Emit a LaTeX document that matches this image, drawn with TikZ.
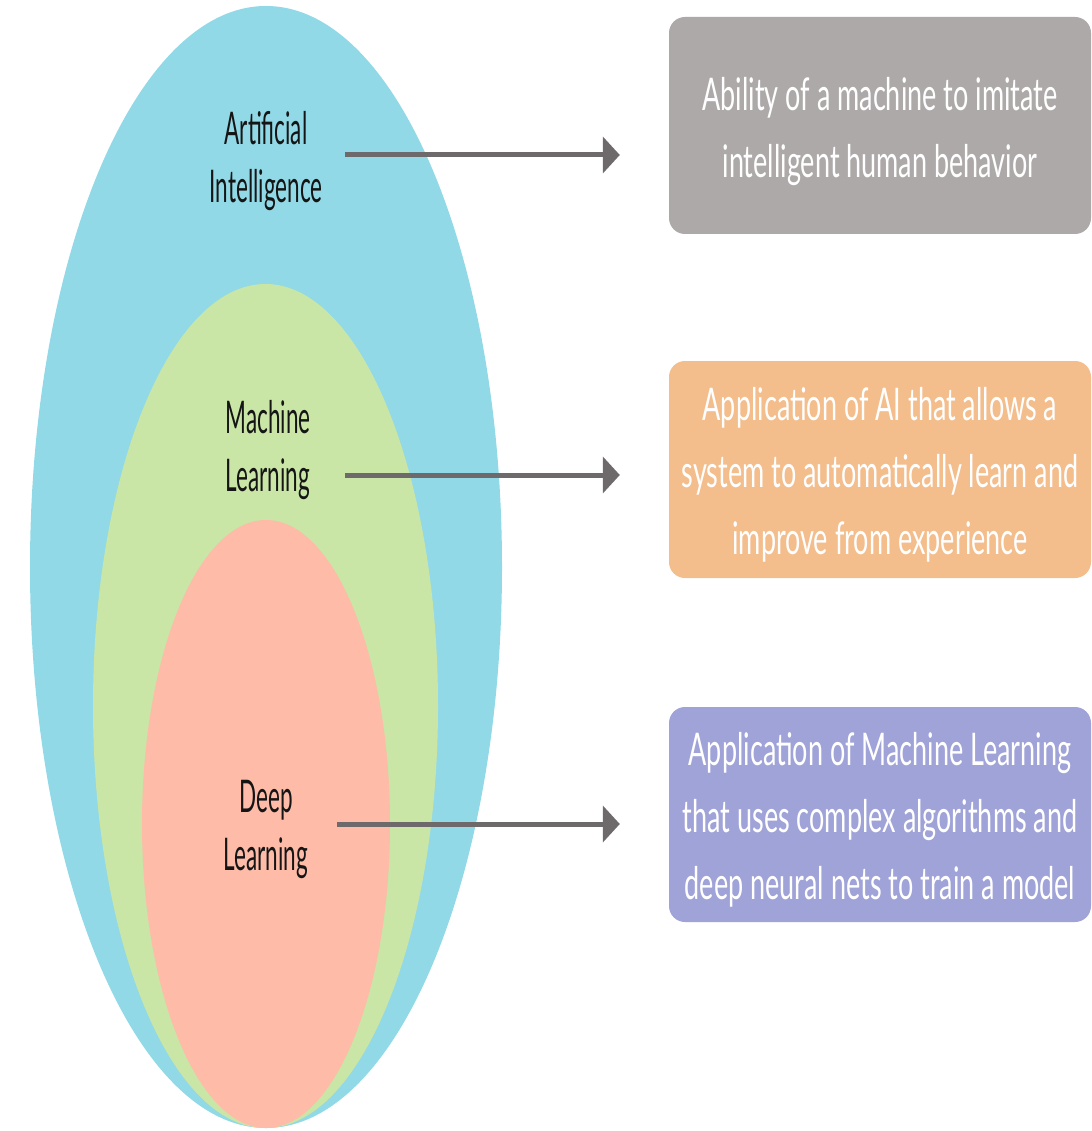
\documentclass[tikz,border=0pt]{standalone}
\usepackage{fontspec}
\setmainfont{Lato}
\newfontfamily\labelfont[FakeStretch=0.50]{Lato}
\newfontfamily\boxfont[FakeStretch=0.60]{Lato}
\usetikzlibrary{arrows.meta}

\definecolor{aiblue}{HTML}{91D9E6}
\definecolor{mlgreen}{HTML}{C9E6A6}
\definecolor{dlsalmon}{HTML}{FDBBA8}
\definecolor{boxgray}{HTML}{ADA9A8}
\definecolor{boxorange}{HTML}{F3BD8C}
\definecolor{boxpurple}{HTML}{A0A3D8}
\definecolor{arrowgray}{HTML}{6E6A6B}
\definecolor{labelink}{HTML}{151515}

% centred lines of a description, set a little below the box centre
\newcommand\desclines[1]{\raisebox{-5pt}[\height][\depth]{%
  \begin{tabular}{@{}c@{}}#1\end{tabular}}}

\begin{document}
\begin{tikzpicture}[x=1pt, y=-1pt,
  region label/.style={font=\labelfont\fontsize{45}{58}\selectfont,
    text=labelink, align=center, inner sep=0pt},
  infobox/.style={rounded corners=16pt, minimum width=422pt,
    minimum height=217pt, inner sep=0pt, text=white,
    font=\boxfont\fontsize{45}{67}\selectfont},
  link/.style={draw=arrowgray, line width=5pt,
    -{Triangle[length=17pt, width=36pt]}, shorten >=49pt}]

\useasboundingbox (0,0) rectangle (1091,1131);

% nested sets, all touching at the bottom
\fill[aiblue]   (266,567) ellipse [x radius=236pt, y radius=561pt];
\fill[mlgreen]  (265.5,706) ellipse [x radius=172.5pt, y radius=422pt];
\fill[dlsalmon] (266,824) ellipse [x radius=124pt, y radius=304pt];

% set labels
\node[region label] (ai) at (266,161) {Artificial\\Intelligence};
\node[region label] (ml) at (268,450) {Machine\\Learning};
\node[region label] (dl) at (266,829) {Deep\\Learning};

% description boxes
\node[infobox, fill=boxgray] (aibox) at (880,125.5)
  {\desclines{Ability of a machine to imitate\\intelligent human behavior}};
\node[infobox, fill=boxorange] (mlbox) at (880,469.5)
  {\desclines{Application of AI that allows a\\system to automatically learn and\\improve from experience}};
\node[infobox, fill=boxpurple, minimum height=215pt] (dlbox) at (880,814.5)
  {\desclines{Application of Machine Learning\\that uses complex algorithms and\\deep neural nets to train a model}};

% arrow start points
\coordinate (ai-out) at (345,155);
\coordinate (ml-out) at (345,475);
\coordinate (dl-out) at (337,824);

\draw[link] (ai-out) -- (ai-out -| aibox.west);
\draw[link] (ml-out) -- (ml-out -| mlbox.west);
\draw[link] (dl-out) -- (dl-out -| dlbox.west);
\end{tikzpicture}
\end{document}
